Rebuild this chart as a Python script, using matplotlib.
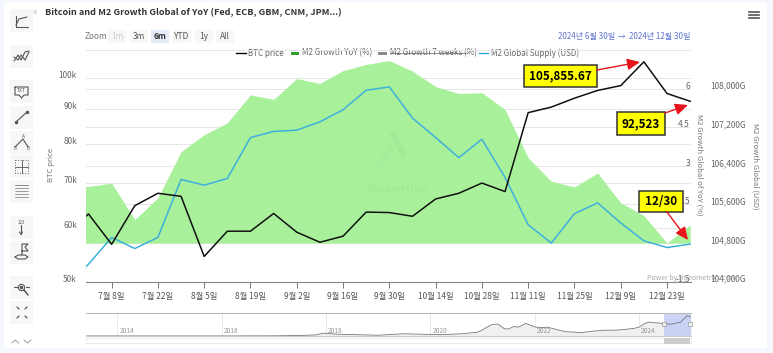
import numpy as np
import pandas as pd
import matplotlib
matplotlib.use('Agg')
import matplotlib.pyplot as plt
import matplotlib.dates as mdates
from matplotlib.patches import Rectangle, Polygon
from matplotlib.ticker import FixedLocator, FixedFormatter, NullLocator

plt.rcParams['font.family'] = ['Noto Sans CJK KR', 'DejaVu Sans']

W, H = 773, 353

# weekly data, first point is just outside the visible range
weeks = pd.date_range('2024-06-24', '2024-12-30', freq='7D')

btc_price = [58800, 63000, 56800, 64800, 67600, 66900, 54500, 59400, 59400, 63100,
             59200, 57200, 58400, 63400, 63300, 62500, 66300, 67600, 70000, 68000,
             89000, 90700, 93500, 96000, 97600, 105855.67, 95000, 92523]
m2_growth = [2.1, 2.2, 2.33, 0.91, 1.76, 3.55, 4.21, 4.67, 5.76, 5.58,
             6.39, 6.2, 6.7, 6.94, 7.09, 6.68, 6.08, 5.81, 5.84, 5.19,
             3.31, 2.4, 2.18, 2.72, 1.56, 1.07, 0.0, 0.71]
m2_supply = [103900, 104362, 104917, 104687, 104917, 106118, 106000, 106139, 106987, 107112,
             107139, 107312, 107562, 107966, 108035, 107389, 106987, 106570, 106952, 106160,
             105181, 104800, 105410, 105633, 105217, 104848, 104708, 104779]

tick_dates = ['2024-07-08', '2024-07-22', '2024-08-05', '2024-08-19', '2024-09-02', '2024-09-16',
              '2024-09-30', '2024-10-14', '2024-10-28', '2024-11-11', '2024-11-25', '2024-12-09',
              '2024-12-23']
tick_labels = ['7월 8일', '7월 22일', '8월 5일', '8월 19일', '9월 2일', '9월 16일', '9월 30일',
               '10월 14일', '10월 28일', '11월 11일', '11월 25일', '12월 9일', '12월 23일']

btc_ticks = [50000, 60000, 70000, 80000, 90000, 100000]
btc_tick_labels = ['50k', '60k', '70k', '80k', '90k', '100k']
m2_ticks = [-1.5, 0, 1.5, 3, 4.5, 6, 7.5]
m2_tick_labels = ['-1.5', '0', '1.5', '3', '4.5', '6', '']
usd_ticks = [104000, 104800, 105600, 106400, 107200, 108000]
usd_tick_labels = ['104,000G', '104,800G', '105,600G', '106,400G', '107,200G', '108,000G']

# navigator (whole history of the price)
nav_years = [2013.4, 2014.5, 2016.0, 2017.0, 2017.5, 2017.8, 2017.96, 2018.2, 2018.5, 2019.0, 2019.5,
             2020.0, 2020.25, 2020.6, 2020.9, 2021.0, 2021.12, 2021.2, 2021.3, 2021.42, 2021.5, 2021.6,
             2021.7, 2021.83, 2022.0, 2022.1, 2022.25, 2022.45, 2022.6, 2022.9, 2023.1, 2023.3, 2023.6,
             2023.9, 2024.0, 2024.12, 2024.2, 2024.5, 2024.62, 2024.8, 2024.93, 2025.0]
nav_price = [300, 500, 400, 900, 2500, 5000, 14000, 9000, 7000, 3700, 11000,
             7500, 6500, 11000, 18000, 30000, 48000, 57000, 58000, 36000, 34000, 46000,
             44000, 62000, 45000, 41000, 43000, 30000, 21000, 17000, 23000, 28000, 29000,
             37000, 43000, 62000, 68000, 60000, 58000, 68000, 100000, 92523]
nav_ticks = [2014, 2016, 2018, 2020, 2022, 2024]


def px_rect(left, top, right, bottom):
    return [left / W, 1 - bottom / H, (right - left) / W, (bottom - top) / H]


fig = plt.figure(figsize=(W / 100, H / 100), dpi=100, facecolor='#f4f7fd')

# page overlay in pixel coords
bg = fig.add_axes([0, 0, 1, 1], zorder=0)
bg.set_xlim(0, W)
bg.set_ylim(H, 0)
bg.axis('off')
bg.add_patch(Rectangle((4, 2), 763, 346, fc='white', ec='none'))

box_tops = [9, 45, 80, 106, 131, 155, 180, 216, 241, 276, 301]
for top in box_tops:
    bg.add_patch(Rectangle((10, top), 23, 23, fc='#f7f7f7', ec='none'))


def icon(xs, ys, lw=0.8, color='#555555'):
    bg.plot(xs, ys, color=color, lw=lw, solid_capstyle='round')


# toolbar icons
icon([16, 16, 28], [16, 27, 27])
icon([16, 19, 27], [25, 19, 17])
icon([14, 18, 21, 25, 29], [61, 55, 60, 52, 51])
icon([14, 18, 21, 25, 29], [57, 60, 55, 60, 52])
icon([15, 28, 28, 24, 21.5, 19, 15, 15], [87, 87, 95, 95, 98, 95, 95, 87])
bg.text(21.5, 91, 'TXT', fontsize=3.6, color='#555555', ha='center', va='center')
icon([16, 27], [122, 112])
bg.plot([16, 27], [122, 112], 'o', ms=1.5, color='#555555')
icon([15, 23, 28], [147, 139, 147])
bg.text(23, 136, 'A', fontsize=3.5, color='#555555', ha='center', va='center')
bg.text(15, 149, 'B', fontsize=3.2, color='#555555', ha='center', va='center')
bg.text(28, 149, 'B', fontsize=3.2, color='#555555', ha='center', va='center')
bg.add_patch(Rectangle((15, 160), 13, 13, fc='none', ec='#666666', lw=0.7, ls=':'))
icon([21.5, 21.5], [160, 173], lw=0.6)
icon([15, 28], [166.5, 166.5], lw=0.6)
for yy in [185, 188, 191, 194, 197]:
    icon([15, 28], [yy, yy], lw=0.6 if yy == 185 else 0.5, color='#777777')
bg.text(21, 222, '123', fontsize=3.2, color='#555555', ha='center', va='center')
icon([21, 21], [225, 234])
icon([19.5, 21, 22.5], [232, 234.5, 232])
icon([22, 22, 28, 25, 28, 22], [255, 244, 244, 247, 251, 251])
icon([15, 18, 25, 28, 25, 18, 15], [257, 255, 255, 257, 259, 259, 257])
icon([14, 17], [287, 287])
icon([26, 29], [287, 287])
bg.plot(21, 287, 'o', ms=4.5, mfc='none', mec='#555555', mew=0.8)
bg.plot(21, 287, 'o', ms=1.5, color='#555555')
icon([24, 28], [290, 295], lw=1.1)
for x0, x1, y0, y1 in [(17, 19, 307, 309), (27, 25, 307, 309), (17, 19, 318, 316), (27, 25, 318, 316)]:
    icon([x0, x1], [y0, y1], lw=0.9)
icon([12, 15, 19], [343, 340, 343], color='#aaaaaa')
icon([24, 27.5, 31], [340, 343, 340], color='#aaaaaa')
icon([34, 36, 36, 34], [12, 10, 14, 12], color='#cccccc', lw=0.6)

# header
bg.text(45, 13, 'Bitcoin and M2 Growth Global of YoY (Fed, ECB, GBM, CNM, JPM...)', fontsize=6.55,
        fontweight='bold', color='#333333', ha='left', va='center')
for yy in [11.5, 14.5, 17.5]:
    bg.plot([749, 759], [yy, yy], color='#555555', lw=1.2)

# range selector
bg.text(85, 36.5, 'Zoom', fontsize=6, color='#777777', ha='left', va='center')
range_labels = ['1m', '3m', '6m', 'YTD', '1y', 'All']
range_x = [117, 138.6, 160, 182, 204, 225]
for lab, xx in zip(range_labels, range_x):
    active = lab == '6m'
    fc = '#e6ebf9' if active else '#f7f7f7'
    col = '#cccccc' if lab == '1m' else '#333333' if active else '#555555'
    bg.add_patch(Rectangle((xx - 9, 30), 18, 13, fc=fc, ec='none'))
    bg.text(xx, 36.5, lab, fontsize=6, color=col, ha='center', va='center',
            fontweight='bold' if active else 'normal')
bg.text(558, 36, '2024년 6월 30일', fontsize=5.8, color='#5f74cf', ha='left', va='center')
bg.text(621, 36.5, '→', fontsize=5.5, color='#5f74cf', ha='center', va='center')
bg.text(629, 36, '2024년 12월 30일', fontsize=5.8, color='#5f74cf', ha='left', va='center')

# legend
legend_y = 53
bg.plot([236, 246], [legend_y, legend_y], color='black', lw=1)
bg.text(248, legend_y, 'BTC price', fontsize=5.8, color='#666666', va='center')
bg.add_patch(Rectangle((291, legend_y - 1.5), 8, 3, fc='#2f9e2f', ec='none'))
bg.text(302, legend_y, 'M2 Growth YoY (%)', fontsize=5.8, color='#666666', va='center')
bg.add_patch(Rectangle((378, legend_y - 1.5), 9, 3, fc='#888888', ec='none'))
bg.text(390, legend_y, 'M2 Growth 7 weeks (%)', fontsize=5.8, color='#666666', va='center')
bg.plot([390, 467], [legend_y, legend_y], color='#777777', lw=0.6)
bg.plot([479, 488], [legend_y, legend_y], color='#29a9e0', lw=1)
bg.text(491, legend_y, 'M2 Global Supply (USD)', fontsize=5.8, color='#666666', va='center')

# axis titles
bg.text(51, 165, 'BTC price', fontsize=5.5, color='#777777', rotation=90, ha='center', va='center')
bg.text(699, 165, 'M2 Growth Global of YoY (%)', fontsize=5.5, color='#777777', rotation=270,
        ha='center', va='center')
bg.text(755, 166, 'M2 Growth Global (USD)', fontsize=5.5, color='#777777', rotation=270,
        ha='center', va='center')

# main chart
x0 = pd.Timestamp('2024-06-30 06:00')
x1 = pd.Timestamp('2024-12-30 06:00')
plot_rect = px_rect(86, 50, 691, 281.7)

ax_btc = fig.add_axes(plot_rect, zorder=1)
ax_btc.patch.set_alpha(0)
ax_btc.set_yscale('log')
ax_btc.set_ylim(50000, 110200)
ax_btc.set_xlim(x0, x1)
ax_btc.yaxis.set_major_locator(FixedLocator(btc_ticks))
ax_btc.yaxis.set_major_formatter(FixedFormatter(btc_tick_labels))
ax_btc.yaxis.set_minor_locator(NullLocator())
ax_btc.tick_params(axis='y', which='both', length=0, pad=6.5, labelsize=6, labelcolor='#666666')
for lab in ax_btc.get_yticklabels():
    lab.set_verticalalignment('baseline')
ax_btc.grid(axis='y', color='#e6e6e6', lw=0.7)
ax_btc.set_axisbelow(True)
ax_btc.xaxis.set_major_locator(FixedLocator(mdates.date2num(pd.to_datetime(tick_dates))))
ax_btc.xaxis.set_major_formatter(FixedFormatter(tick_labels))
ax_btc.tick_params(axis='x', length=4, width=0.7, color='#777777', pad=3.5, labelsize=6, labelcolor='#555555')
for side in ['top', 'left', 'right']:
    ax_btc.spines[side].set_visible(False)
ax_btc.spines['bottom'].set_color('#888888')
ax_btc.spines['bottom'].set_linewidth(0.8)

ax_m2 = fig.add_axes(plot_rect, zorder=2, sharex=ax_btc)
ax_m2.patch.set_alpha(0)
ax_m2.set_ylim(-1.5, 7.5)
ax_m2.fill_between(weeks, m2_growth, 0, color='#a9f09b', lw=0)
ax_m2.yaxis.tick_right()
ax_m2.set_yticks(m2_ticks)
ax_m2.set_yticklabels(m2_tick_labels)
ax_m2.tick_params(axis='y', length=0, pad=-0.7, labelsize=6, labelcolor='#666666')
for lab in ax_m2.get_yticklabels():
    lab.set_horizontalalignment('right')
    lab.set_verticalalignment('baseline')
ax_m2.grid(axis='y', color='#e6e6e6', lw=0.7)
ax_m2.set_axisbelow(True)
ax_m2.tick_params(axis='x', length=0, labelbottom=False)
for spine in ax_m2.spines.values():
    spine.set_visible(False)

ax_usd = fig.add_axes(plot_rect, zorder=3, sharex=ax_btc)
ax_usd.patch.set_alpha(0)
ax_usd.set_ylim(104000, 108800)
ax_usd.plot(weeks, m2_supply, color='#3fb0dc', lw=1.1)
ax_usd.yaxis.tick_right()
ax_usd.set_yticks(usd_ticks)
ax_usd.set_yticklabels(usd_tick_labels)
ax_usd.tick_params(axis='y', length=0, pad=39.6, labelsize=6, labelcolor='#666666')
for lab in ax_usd.get_yticklabels():
    lab.set_horizontalalignment('right')
    lab.set_verticalalignment('baseline')
ax_usd.tick_params(axis='x', length=0, labelbottom=False)
for spine in ax_usd.spines.values():
    spine.set_visible(False)

ax_line = fig.add_axes(plot_rect, zorder=4, sharex=ax_btc)
ax_line.patch.set_alpha(0)
ax_line.set_yscale('log')
ax_line.set_ylim(50000, 110200)
ax_line.plot(weeks, btc_price, color='#111111', lw=1.1)
ax_line.axis('off')

# navigator
ax_nav = fig.add_axes(px_rect(86, 312.5, 691, 336), zorder=1)
ax_nav.set_xlim(2013.4, 2025.0)
ax_nav.set_ylim(0, 115000)
ax_nav.fill_between(nav_years, nav_price, 0, color='#f0f0f0', lw=0)
ax_nav.plot(nav_years, nav_price, color='#777777', lw=0.6)
ax_nav.set_xticks(nav_ticks)
ax_nav.set_xticklabels([])
ax_nav.set_yticks([])
ax_nav.tick_params(axis='x', length=0)
ax_nav.grid(axis='x', color='#e6e6e6', lw=0.6)
ax_nav.set_axisbelow(True)
for yr in nav_ticks:
    ax_nav.text(yr + 0.04, 2500, str(yr), fontsize=4.8, color='#999999', ha='left', va='bottom')
for side in ['left', 'right']:
    ax_nav.spines[side].set_visible(False)
ax_nav.spines['top'].set_color('#bbbbbb')
ax_nav.spines['bottom'].set_color('#cccccc')
ax_nav.axvspan(2024.49, 2025.0, color='#c3ccf5', alpha=0.85, lw=0)
for xx in [2024.49, 2024.99]:
    ax_nav.plot([xx], [57000], marker='s', ms=3, mfc='#f2f2f2', mec='#999999', mew=0.5, clip_on=False)

# scrollbar
bg.add_patch(Rectangle((86, 338), 605, 5, fc='white', ec='#e8e8e8', lw=0.6))
bg.add_patch(Rectangle((664, 338), 26, 6, fc='#cccccc', ec='none'))

# watermark and credit
wm = fig.add_axes([0, 0, 1, 1], zorder=5)
wm.set_xlim(0, W)
wm.set_ylim(H, 0)
wm.axis('off')
wm.patch.set_alpha(0)
wm.text(397, 189, 'BGeometrics', fontsize=7, color='#a3ea96', ha='center', va='center', fontweight='bold')
wm.add_patch(Polygon([[388, 131], [396, 131], [407, 155], [402, 158]], fc='#a3ea96', ec='none'))
wm.add_patch(Polygon([[376, 165], [390, 143], [394, 150], [381, 168]], fc='#a6ec99', ec='none'))
wm.text(647, 278, 'Power by BGeometrics.com', fontsize=5, color='#aaaaaa', ha='left', va='center')

# hand drawn callouts on top of the screenshot
callouts = [('105,855.67', 523.5, 65, 597, 87, (597, 70), (640, 62)),
            ('92,523', 617, 112, 665, 135, (665, 113), (688, 105)),
            ('12/30', 639, 190.5, 683, 212, (667, 212), (688, 240))]
for label, left, top, right, bottom, start, tip in callouts:
    wm.add_patch(Rectangle((left, top), right - left, bottom - top, fc='#ffff00', ec='#333333', lw=1.1))
    wm.text((left + right) / 2, (top + bottom) / 2, label, fontsize=8.4, fontweight='bold', color='black',
            ha='center', va='center')
    wm.annotate('', xy=tip, xytext=start,
                arrowprops=dict(arrowstyle='-|>,head_length=0.55,head_width=0.25', color='#e8141c', lw=1,
                                shrinkA=0, shrinkB=0, mutation_scale=14))

fig.savefig('out.png', dpi=100, facecolor=fig.get_facecolor())
